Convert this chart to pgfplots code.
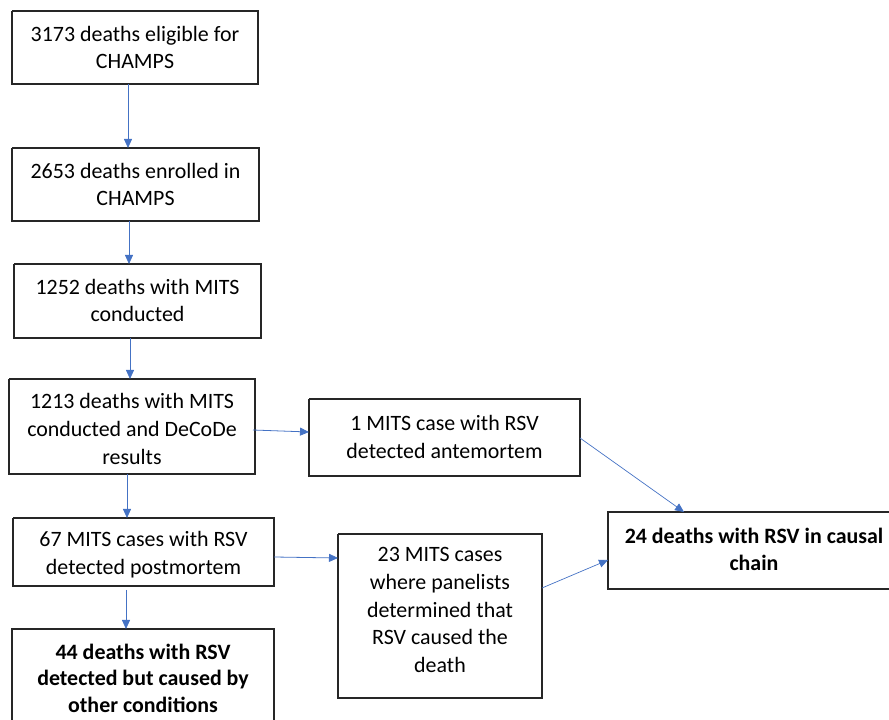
\documentclass[border=0pt]{standalone}
\usepackage{pgfplots}
\pgfplotsset{compat=1.18}
\usepackage{fontspec}
\setmainfont{Carlito}
\usetikzlibrary{arrows.meta}
\definecolor{arrowblue}{HTML}{4472C4}
\definecolor{boxgray}{HTML}{262626}
\begin{document}
\begin{tikzpicture}
\begin{axis}[
  width=889bp, height=720bp, scale only axis,
  xmin=0, xmax=889, ymin=0, ymax=720, y dir=reverse,
  axis lines=none, clip=true,
]
% boxes
\addplot[boxgray, line width=1.2pt] coordinates {(12,11) (258,11) (258,84) (12,84) (12,11)};
\addplot[boxgray, line width=1.2pt] coordinates {(12,148) (259,148) (259,221) (12,221) (12,148)};
\addplot[boxgray, line width=1.2pt] coordinates {(14,264) (261,264) (261,338) (14,338) (14,264)};
\addplot[boxgray, line width=1.2pt] coordinates {(9,379) (255,379) (255,474) (9,474) (9,379)};
\addplot[boxgray, line width=1.2pt] coordinates {(309,399) (580,399) (580,476) (309,476) (309,399)};
\addplot[boxgray, line width=1.2pt] coordinates {(13,518) (274,518) (274,586) (13,586) (13,518)};
\addplot[boxgray, line width=1.2pt] coordinates {(12,720) (12,629) (274,629) (274,720)};
\addplot[boxgray, line width=1.2pt] coordinates {(338,534) (542,534) (542,698) (338,698) (338,534)};
\addplot[boxgray, line width=1.2pt] coordinates {(889,512) (608,512) (608,589) (889,589)};
% arrows
\addplot[arrowblue, line width=0.8pt, -{Triangle[length=9bp,width=8bp]}] coordinates {(128,84) (128,148)};
\addplot[arrowblue, line width=0.8pt, -{Triangle[length=9bp,width=8bp]}] coordinates {(129,221) (129,264)};
\addplot[arrowblue, line width=0.8pt, -{Triangle[length=9bp,width=8bp]}] coordinates {(130,338) (130,379)};
\addplot[arrowblue, line width=0.8pt, -{Triangle[length=9bp,width=8bp]}] coordinates {(127,474) (127,518)};
\addplot[arrowblue, line width=0.8pt, -{Triangle[length=9bp,width=8bp]}] coordinates {(126,590) (126,629)};
\addplot[arrowblue, line width=0.8pt, -{Triangle[length=9bp,width=8bp]}] coordinates {(253,430) (309,432)};
\addplot[arrowblue, line width=0.7pt, -{Triangle[length=9bp,width=8bp]}] coordinates {(580,438) (684,512)};
\addplot[arrowblue, line width=0.8pt, -{Triangle[length=9bp,width=8bp]}] coordinates {(274,557) (338,558)};
\addplot[arrowblue, line width=0.7pt, -{Triangle[length=9bp,width=8bp]}] coordinates {(542,588) (608,560)};
% texts
\begin{scope}[every node/.style={align=center, font=\fontsize{22}{28}\selectfont, text=black, inner sep=0pt}]
\node at (axis cs:135,47.5) {3173 deaths eligible for\\CHAMPS};
\node at (axis cs:135.5,184.5) {2653 deaths enrolled in\\CHAMPS};
\node at (axis cs:137.5,300.5) {1252 deaths with MITS\\conducted};
\node at (axis cs:132,429) {1213 deaths with MITS\\conducted and DeCoDe\\results};
\node at (axis cs:444.5,437) {1 MITS case with RSV\\detected antemortem};
\node at (axis cs:143.5,555) {67 MITS cases with RSV\\detected postmortem};
\node at (axis cs:440,610) {23 MITS cases\\where panelists\\determined that\\RSV caused the\\death};
\node[font=\fontsize{22}{27}\selectfont\bfseries] at (axis cs:754,549) {24 deaths with RSV in causal\\chain};
\node[font=\fontsize{22}{26.5}\selectfont\bfseries] at (axis cs:143,678) {44 deaths with RSV\\detected but caused by\\other conditions};
\end{scope}
\end{axis}
\pgfresetboundingbox
\path (current axis.south west) rectangle (current axis.north east);
\end{tikzpicture}
\end{document}
